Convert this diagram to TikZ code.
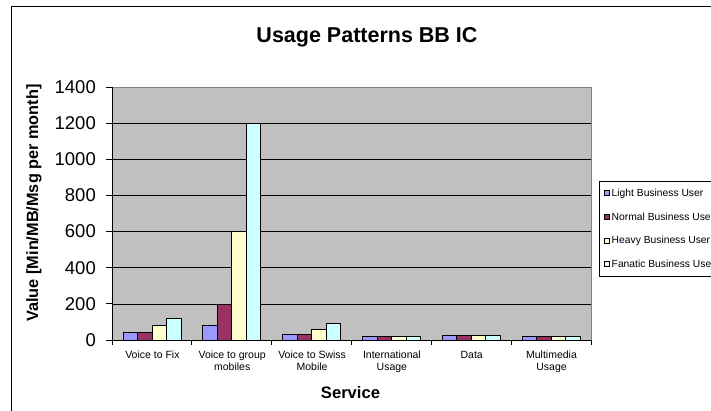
\documentclass[tikz,border=0pt]{standalone}
\usepackage{fontspec}
\setmainfont{Liberation Sans}
\definecolor{lightc}{HTML}{9999FF}
\definecolor{normalc}{HTML}{993366}
\definecolor{heavyc}{HTML}{FFFFCC}
\definecolor{fanc}{HTML}{CCFFFF}
\definecolor{plotbg}{HTML}{C0C0C0}
\definecolor{plotedge}{HTML}{808080}
\begin{document}
\begin{tikzpicture}[x=1pt,y=-1pt,
  bar/.style={draw=black,line width=0.6pt},
  grid line/.style={draw=black,line width=0.7pt},
  ticklbl/.style={anchor=east,font=\fontsize{18.5}{20}\selectfont,inner sep=0},
  catlbl/.style={anchor=north,align=center,font=\fontsize{10.5}{12}\selectfont,inner sep=0},
  leglbl/.style={anchor=base west,font=\fontsize{10.3}{12}\selectfont,inner sep=0},
  legsq/.style={draw=black,line width=0.5pt,minimum size=5pt,inner sep=0},
]
\useasboundingbox (0,0) rectangle (711,411);
\clip (0,0) rectangle (711,411);
\fill[white] (0,0) rectangle (711,411);
\draw[line width=1pt] (11,7) rectangle (730,430);

% title
\node[anchor=base,font=\fontsize{21.5}{24}\selectfont\bfseries,inner sep=0] (title) at (367,43) {Usage Patterns BB IC};

% plot area
\fill[plotbg] (112,87) rectangle (591,340);
\foreach \k in {1,...,7}{
  \pgfmathsetmacro{\gy}{340-\k*36.143}
  \draw[grid line] (112,\gy) -- (591,\gy);
}
\draw[plotedge,line width=0.8pt] (112,87) -- (591,87) -- (591,340);

% bars
\foreach \c/\va/\vb/\vc/\vd in {0/40/40/80/120,1/80/200/600/1200,2/30/30/60/90,3/20/20/20/20,4/25/25/25/25,5/20/20/20/20}{
  \pgfmathsetmacro{\bx}{112+\c*79.833+10.9}
  \draw[bar,fill=lightc]  (\bx,340) rectangle ++(14.5,-\va*0.18071);
  \draw[bar,fill=normalc] (\bx+14.5,340) rectangle ++(14.5,-\vb*0.18071);
  \draw[bar,fill=heavyc]  (\bx+29,340) rectangle ++(14.5,-\vc*0.18071);
  \draw[bar,fill=fanc]    (\bx+43.5,340) rectangle ++(14.5,-\vd*0.18071);
}

% axes
\draw[line width=0.8pt] (112,87) -- (112,340) -- (591,340);
\foreach \k in {0,...,7}{
  \pgfmathsetmacro{\gy}{340-\k*36.143}
  \pgfmathtruncatemacro{\lv}{\k*200}
  \draw[line width=0.8pt] (106,\gy) -- (112,\gy);
  \node[ticklbl] (yt\k) at (96,\gy) {\lv};
}
\foreach \i in {0,...,6}{
  \pgfmathsetmacro{\tx}{112+\i*79.833}
  \draw[line width=0.8pt] (\tx,340) -- (\tx,345);
}

% category labels
\node[catlbl] (c0) at (152.4,351) {Voice to Fix};
\node[catlbl] (c1) at (232.2,351) {Voice to group\\mobiles};
\node[catlbl] (c2) at (312.1,351) {Voice to Swiss\\Mobile};
\node[catlbl] (c3) at (391.9,351) {International\\Usage};
\node[catlbl] (c4) at (471.7,351) {Data};
\node[catlbl] (c5) at (551.5,351) {Multimedia\\Usage};

% axis titles
\node[font=\fontsize{16.6}{18}\selectfont\bfseries,inner sep=0] (xtitle) at (350.5,392.7) {Service};
\node[rotate=90,font=\fontsize{16.3}{18}\selectfont\bfseries,inner sep=0] (ytitle) at (34,203) {Value [Min/MB/Msg per month]};

% legend
\draw[line width=0.8pt,fill=white] (599.3,181) rectangle (740,276);
\foreach \n/\col/\txt [count=\j from 0] in {l/lightc/Light Business User,n/normalc/Normal Business User,h/heavyc/Heavy Business User,f/fanc/Fanatic Business User}{
  \pgfmathsetmacro{\ly}{192.7+\j*23.8}
  \node[legsq,fill=\col] (sq\n) at (607,\ly) {};
  \node[leglbl] (lg\n) at (611.5,\ly+3.7) {\txt};
}
\end{tikzpicture}
\end{document}
